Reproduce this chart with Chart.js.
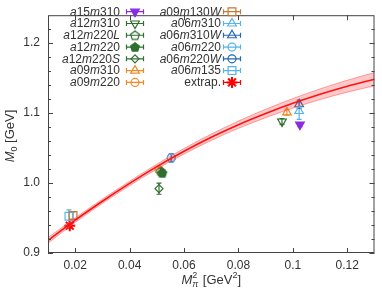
<!DOCTYPE html>
<html>
<head>
<meta charset="utf-8">
<script src="https://cdn.jsdelivr.net/npm/chart.js@4.4.1/dist/chart.umd.min.js"></script>
<style>
  html, body { margin: 0; padding: 0; background: #fff; }
  #wrap { width: 382px; height: 290px; position: relative; }
</style>
</head>
<body>
<div id="wrap"><canvas id="grafico"></canvas></div>
<script>
// ensembles (legend order: left column then right column)
const ensembles = ['a15m310', 'a12m310', 'a12m220L', 'a12m220', 'a12m220S', 'a09m310', 'a09m220',
                   'a09m130W', 'a06m310', 'a06m310W', 'a06m220', 'a06m220W', 'a06m135', 'extrap.'];
const mpi2  = [0.1026, 0.0960, 0.0514, 0.0520, 0.0508, 0.0978, 0.0508,
               0.0192, 0.1023, 0.1023, 0.0553, 0.0553, 0.0177, 0.0180];
const m0    = [1.0835, 1.0880, 1.0170, 1.0145, 0.9920, 1.1010, 1.0190,
               0.9536, 1.1030, 1.1127, 1.0356, 1.0360, 0.9526, 0.9390];
const m0Err = [0.003, 0.004, 0.004, 0.004, 0.008, 0.004, 0.004,
               0.005, 0.012, 0.006, 0.006, 0.005, 0.009, 0.003];

// fit curve with error band
const fitX   = [0.01, 0.02, 0.03, 0.04, 0.05, 0.06, 0.07, 0.08, 0.09, 0.10, 0.11, 0.12, 0.13];
const fitY   = [0.918, 0.947, 0.974, 0.9995, 1.0235, 1.0455, 1.0655, 1.0835, 1.0995, 1.114, 1.127, 1.1385, 1.1485];
const fitErr = [0.004, 0.0032, 0.003, 0.003, 0.0035, 0.004, 0.0045, 0.0052, 0.006, 0.0068, 0.0076, 0.0085, 0.0094];

// ticks
const xTicks = [0.02, 0.04, 0.06, 0.08, 0.1, 0.12];
const xTickLabels = ['0.02', '0.04', '0.06', '0.08', '0.1', '0.12'];
const yTicks = [0.9, 0.92, 0.94, 0.96, 0.98, 1.0, 1.02, 1.04, 1.06, 1.08, 1.1, 1.12, 1.14, 1.16, 1.18, 1.2, 1.22];
const yMajor = [0.9, 1.0, 1.1, 1.2];
const yTickLabels = ['0.9', '1.0', '1.1', '1.2'];

// styles
const green = '#2f6f2f', orange = '#f08a24', lblue = '#56b4e9', dblue = '#2568ad';
const colores = ['#8a2be2', green, green, green, green, orange, orange,
                 '#c47a36', lblue, dblue, lblue, dblue, lblue, '#ff0000'];
const formas  = ['triDown', 'triDown', 'pentagon', 'pentagon', 'rectRot', 'triangle', 'circle',
                 'rect', 'triangle', 'triangle', 'circle', 'circle', 'rect', 'star'];
const cheio   = [true, false, false, true, false, false, false, false, false, false, false, false, false, false];

const FONT = "'Liberation Sans', Arial, sans-serif";
Chart.defaults.font.family = FONT;
Chart.defaults.font.size = 12;
Chart.defaults.color = '#333';

function pentagono(cor, fill) {
    const c = document.createElement('canvas');
    c.width = 12; c.height = 12;
    const g = c.getContext('2d');
    g.beginPath();
    for (let k = 0; k < 5; k++) {
        const a = -Math.PI / 2 + k * 2 * Math.PI / 5;
        const px = 6 + 4.6 * Math.cos(a), py = 6.4 + 4.6 * Math.sin(a);
        if (k === 0) g.moveTo(px, py); else g.lineTo(px, py);
    }
    g.closePath();
    if (fill) { g.fillStyle = cor; g.fill(); }
    g.strokeStyle = cor; g.lineWidth = 1.2; g.stroke();
    return c;
}

function estiloPonto(i) {
    const f = formas[i];
    let o = { pointStyle: f, rotation: 0, radius: 4 };
    if (f === 'triDown') o = { pointStyle: 'triangle', rotation: 180, radius: 5 };
    if (f === 'triangle') o.radius = 5;
    if (f === 'rect') o.radius = 5.5;
    if (f === 'rectRot') o.radius = 4;
    if (f === 'star') o.radius = 5.5;
    if (f === 'pentagon') o = { pointStyle: pentagono(colores[i], cheio[i]), rotation: 0, radius: 5 };
    return o;
}

const datasets = [];
// band upper / lower, then central line
datasets.push({
    type: 'line', data: fitX.map((x, i) => ({ x, y: fitY[i] + fitErr[i] })),
    borderColor: 'rgba(255,90,90,0.55)', borderWidth: 1, pointRadius: 0,
    backgroundColor: 'rgba(255,60,60,0.28)', fill: '+1', cubicInterpolationMode: 'monotone'
});
datasets.push({
    type: 'line', data: fitX.map((x, i) => ({ x, y: fitY[i] - fitErr[i] })),
    borderColor: 'rgba(255,90,90,0.55)', borderWidth: 1, pointRadius: 0, fill: false,
    cubicInterpolationMode: 'monotone'
});
datasets.push({
    type: 'line', data: fitX.map((x, i) => ({ x, y: fitY[i] })),
    borderColor: '#ff0000', borderWidth: 1.6, pointRadius: 0, fill: false,
    cubicInterpolationMode: 'monotone'
});
ensembles.forEach((nome, i) => {
    const st = estiloPonto(i);
    datasets.push({
        type: 'scatter', label: nome, ensIdx: i,
        data: [{ x: mpi2[i], y: m0[i] }],
        pointStyle: st.pointStyle, pointRotation: st.rotation, pointRadius: st.radius,
        pointBorderColor: colores[i], pointBorderWidth: formas[i] === 'star' ? 2 : 1.2,
        pointBackgroundColor: cheio[i] ? colores[i] : 'rgba(0,0,0,0)'
    });
});

// error bars (vertical, with caps) through the y scale
const barrasErro = {
    id: 'barrasErro',
    beforeDatasetsDraw(chart) {
        const ctx = chart.ctx, ys = chart.scales.y;
        chart.data.datasets.forEach((ds, d) => {
            if (ds.ensIdx === undefined) return;
            const i = ds.ensIdx;
            const pt = chart.getDatasetMeta(d).data[0];
            const y1 = ys.getPixelForValue(m0[i] + m0Err[i]);
            const y2 = ys.getPixelForValue(m0[i] - m0Err[i]);
            ctx.save();
            ctx.strokeStyle = colores[i]; ctx.lineWidth = 1.2;
            ctx.beginPath();
            ctx.moveTo(pt.x, y1); ctx.lineTo(pt.x, y2);
            ctx.moveTo(pt.x - 2.5, y1); ctx.lineTo(pt.x + 2.5, y1);
            ctx.moveTo(pt.x - 2.5, y2); ctx.lineTo(pt.x + 2.5, y2);
            ctx.stroke();
            ctx.restore();
        });
    }
};

function textoMat(ctx, txt, size) {
    // letters italic, digits upright
    const partes = [];
    for (const ch of txt) {
        const it = /[A-Za-z]/.test(ch);
        const last = partes[partes.length - 1];
        if (last && last.it === it) last.s += ch; else partes.push({ s: ch, it });
    }
    partes.forEach(p => {
        ctx.font = (p.it ? 'italic ' : '') + size + 'px ' + FONT;
        p.w = ctx.measureText(p.s).width;
    });
    return partes;
}

const moldura = {
    id: 'moldura',
    afterDraw(chart) {
        const ctx = chart.ctx, a = chart.chartArea;
        const xs = chart.scales.x, ys = chart.scales.y;
        ctx.save();
        ctx.strokeStyle = '#444'; ctx.lineWidth = 1;
        ctx.strokeRect(a.left + 0.5, a.top + 0.5, a.right - a.left - 1, a.bottom - a.top - 1);
        ctx.beginPath();
        xTicks.forEach(v => {
            const px = Math.round(xs.getPixelForValue(v)) + 0.5;
            ctx.moveTo(px, a.bottom); ctx.lineTo(px, a.bottom - 5);
            ctx.moveTo(px, a.top); ctx.lineTo(px, a.top + 5);
        });
        yTicks.forEach(v => {
            const maj = yMajor.some(m => Math.abs(m - v) < 1e-6);
            const len = maj ? 5 : 3;
            const py = Math.round(ys.getPixelForValue(v)) + 0.5;
            ctx.moveTo(a.left, py); ctx.lineTo(a.left + len, py);
            ctx.moveTo(a.right, py); ctx.lineTo(a.right - len, py);
        });
        ctx.stroke();

        // axis titles
        ctx.fillStyle = '#333';
        ctx.textBaseline = 'alphabetic';
        ctx.textAlign = 'left';
        // x: M_pi^2 [GeV^2]
        ctx.font = 'italic 13px ' + FONT; const wM = ctx.measureText('M').width;
        ctx.font = 'italic 9px ' + FONT; const wPi = ctx.measureText('π').width;
        ctx.font = '9px ' + FONT; const w2 = ctx.measureText('2').width;
        ctx.font = '13px ' + FONT; const wG = ctx.measureText(' [GeV').width, wB = ctx.measureText(']').width;
        const tot = wM + Math.max(wPi, w2) + 1 + wG + w2 + wB;
        let cx = (a.left + a.right) / 2 - tot / 2, by = 284;
        ctx.font = 'italic 13px ' + FONT; ctx.fillText('M', cx, by); cx += wM;
        ctx.font = '9px ' + FONT; ctx.fillText('2', cx, by - 6);
        ctx.font = 'italic 9px ' + FONT; ctx.fillText('π', cx, by + 3); cx += Math.max(wPi, w2) + 1;
        ctx.font = '13px ' + FONT; ctx.fillText(' [GeV', cx, by); cx += wG;
        ctx.font = '9px ' + FONT; ctx.fillText('2', cx, by - 6); cx += w2;
        ctx.font = '13px ' + FONT; ctx.fillText(']', cx, by);

        // y: M_0 [GeV]
        ctx.save();
        ctx.translate(14, 136);
        ctx.rotate(-Math.PI / 2);
        ctx.font = 'italic 13px ' + FONT; const wM2 = ctx.measureText('M').width;
        ctx.font = '9px ' + FONT; const w0 = ctx.measureText('0').width;
        ctx.font = '13px ' + FONT; const wGeV = ctx.measureText(' [GeV]').width;
        let tx = -(wM2 + w0 + wGeV) / 2;
        ctx.font = 'italic 13px ' + FONT; ctx.fillText('M', tx, 0); tx += wM2;
        ctx.font = '9px ' + FONT; ctx.fillText('0', tx, 3); tx += w0;
        ctx.font = '13px ' + FONT; ctx.fillText(' [GeV]', tx, 0);
        ctx.restore();

        // legend, two columns
        const colunas = [{ textR: 120, cx: 135 }, { textR: 221, cx: 232 }];
        ensembles.forEach((nome, i) => {
            const col = colunas[i < 7 ? 0 : 1];
            const y = 11.7 + (i % 7) * 11.78;
            ctx.fillStyle = '#333';
            ctx.textBaseline = 'middle';
            if (nome === 'extrap.') {
                ctx.font = '12px ' + FONT; ctx.textAlign = 'right';
                ctx.fillText(nome, col.textR, y + 0.5);
            } else {
                const partes = textoMat(ctx, nome, 12);
                let x = col.textR - partes.reduce((s, p) => s + p.w, 0);
                ctx.textAlign = 'left';
                partes.forEach(p => {
                    ctx.font = (p.it ? 'italic ' : '') + '12px ' + FONT;
                    ctx.fillText(p.s, x, y + 0.5); x += p.w;
                });
            }
            // horizontal error bar sample
            ctx.strokeStyle = colores[i]; ctx.lineWidth = 1.2;
            ctx.beginPath();
            ctx.moveTo(col.cx - 8.5, y); ctx.lineTo(col.cx + 8.5, y);
            ctx.moveTo(col.cx - 8.5, y - 2.5); ctx.lineTo(col.cx - 8.5, y + 2.5);
            ctx.moveTo(col.cx + 8.5, y - 2.5); ctx.lineTo(col.cx + 8.5, y + 2.5);
            ctx.stroke();
            const st = estiloPonto(i);
            ctx.fillStyle = cheio[i] ? colores[i] : 'rgba(0,0,0,0)';
            ctx.lineWidth = formas[i] === 'star' ? 2 : 1.2;
            Chart.helpers.drawPoint(ctx, { pointStyle: st.pointStyle, rotation: st.rotation, radius: st.radius, borderWidth: ctx.lineWidth }, col.cx, y);
        });
        ctx.restore();
    }
};

new Chart(document.getElementById('grafico').getContext('2d'), {
    type: 'scatter',
    data: { datasets },
    options: {
        responsive: true,
        maintainAspectRatio: false,
        animation: false,
        layout: { padding: { top: 2, right: 2, left: 0, bottom: 0 } },
        plugins: { legend: { display: false }, tooltip: { enabled: false } },
        scales: {
            x: {
                type: 'linear', min: 0.01, max: 0.13,
                afterBuildTicks: s => { s.ticks = xTicks.map(v => ({ value: v })); },
                afterFit: s => { s.height = 37; },
                ticks: {
                    padding: 5, color: '#333', font: { size: 12 }, autoSkip: false, maxRotation: 0,
                    callback: v => { const k = xTicks.findIndex(t => Math.abs(t - v) < 1e-6); return k >= 0 ? xTickLabels[k] : ''; }
                },
                grid: { display: false, drawTicks: false },
                border: { display: false }
            },
            y: {
                type: 'linear', min: 0.9, max: 1.24,
                afterBuildTicks: s => { s.ticks = yTicks.map(v => ({ value: v })); },
                afterFit: s => { s.width = 48; },
                ticks: {
                    padding: 8, color: '#333', font: { size: 12 }, autoSkip: false,
                    callback: v => { const k = yMajor.findIndex(t => Math.abs(t - v) < 1e-6); return k >= 0 ? yTickLabels[k] : ''; }
                },
                grid: { display: false, drawTicks: false },
                border: { display: false }
            }
        }
    },
    plugins: [barrasErro, moldura]
});
</script>
</body>
</html>
